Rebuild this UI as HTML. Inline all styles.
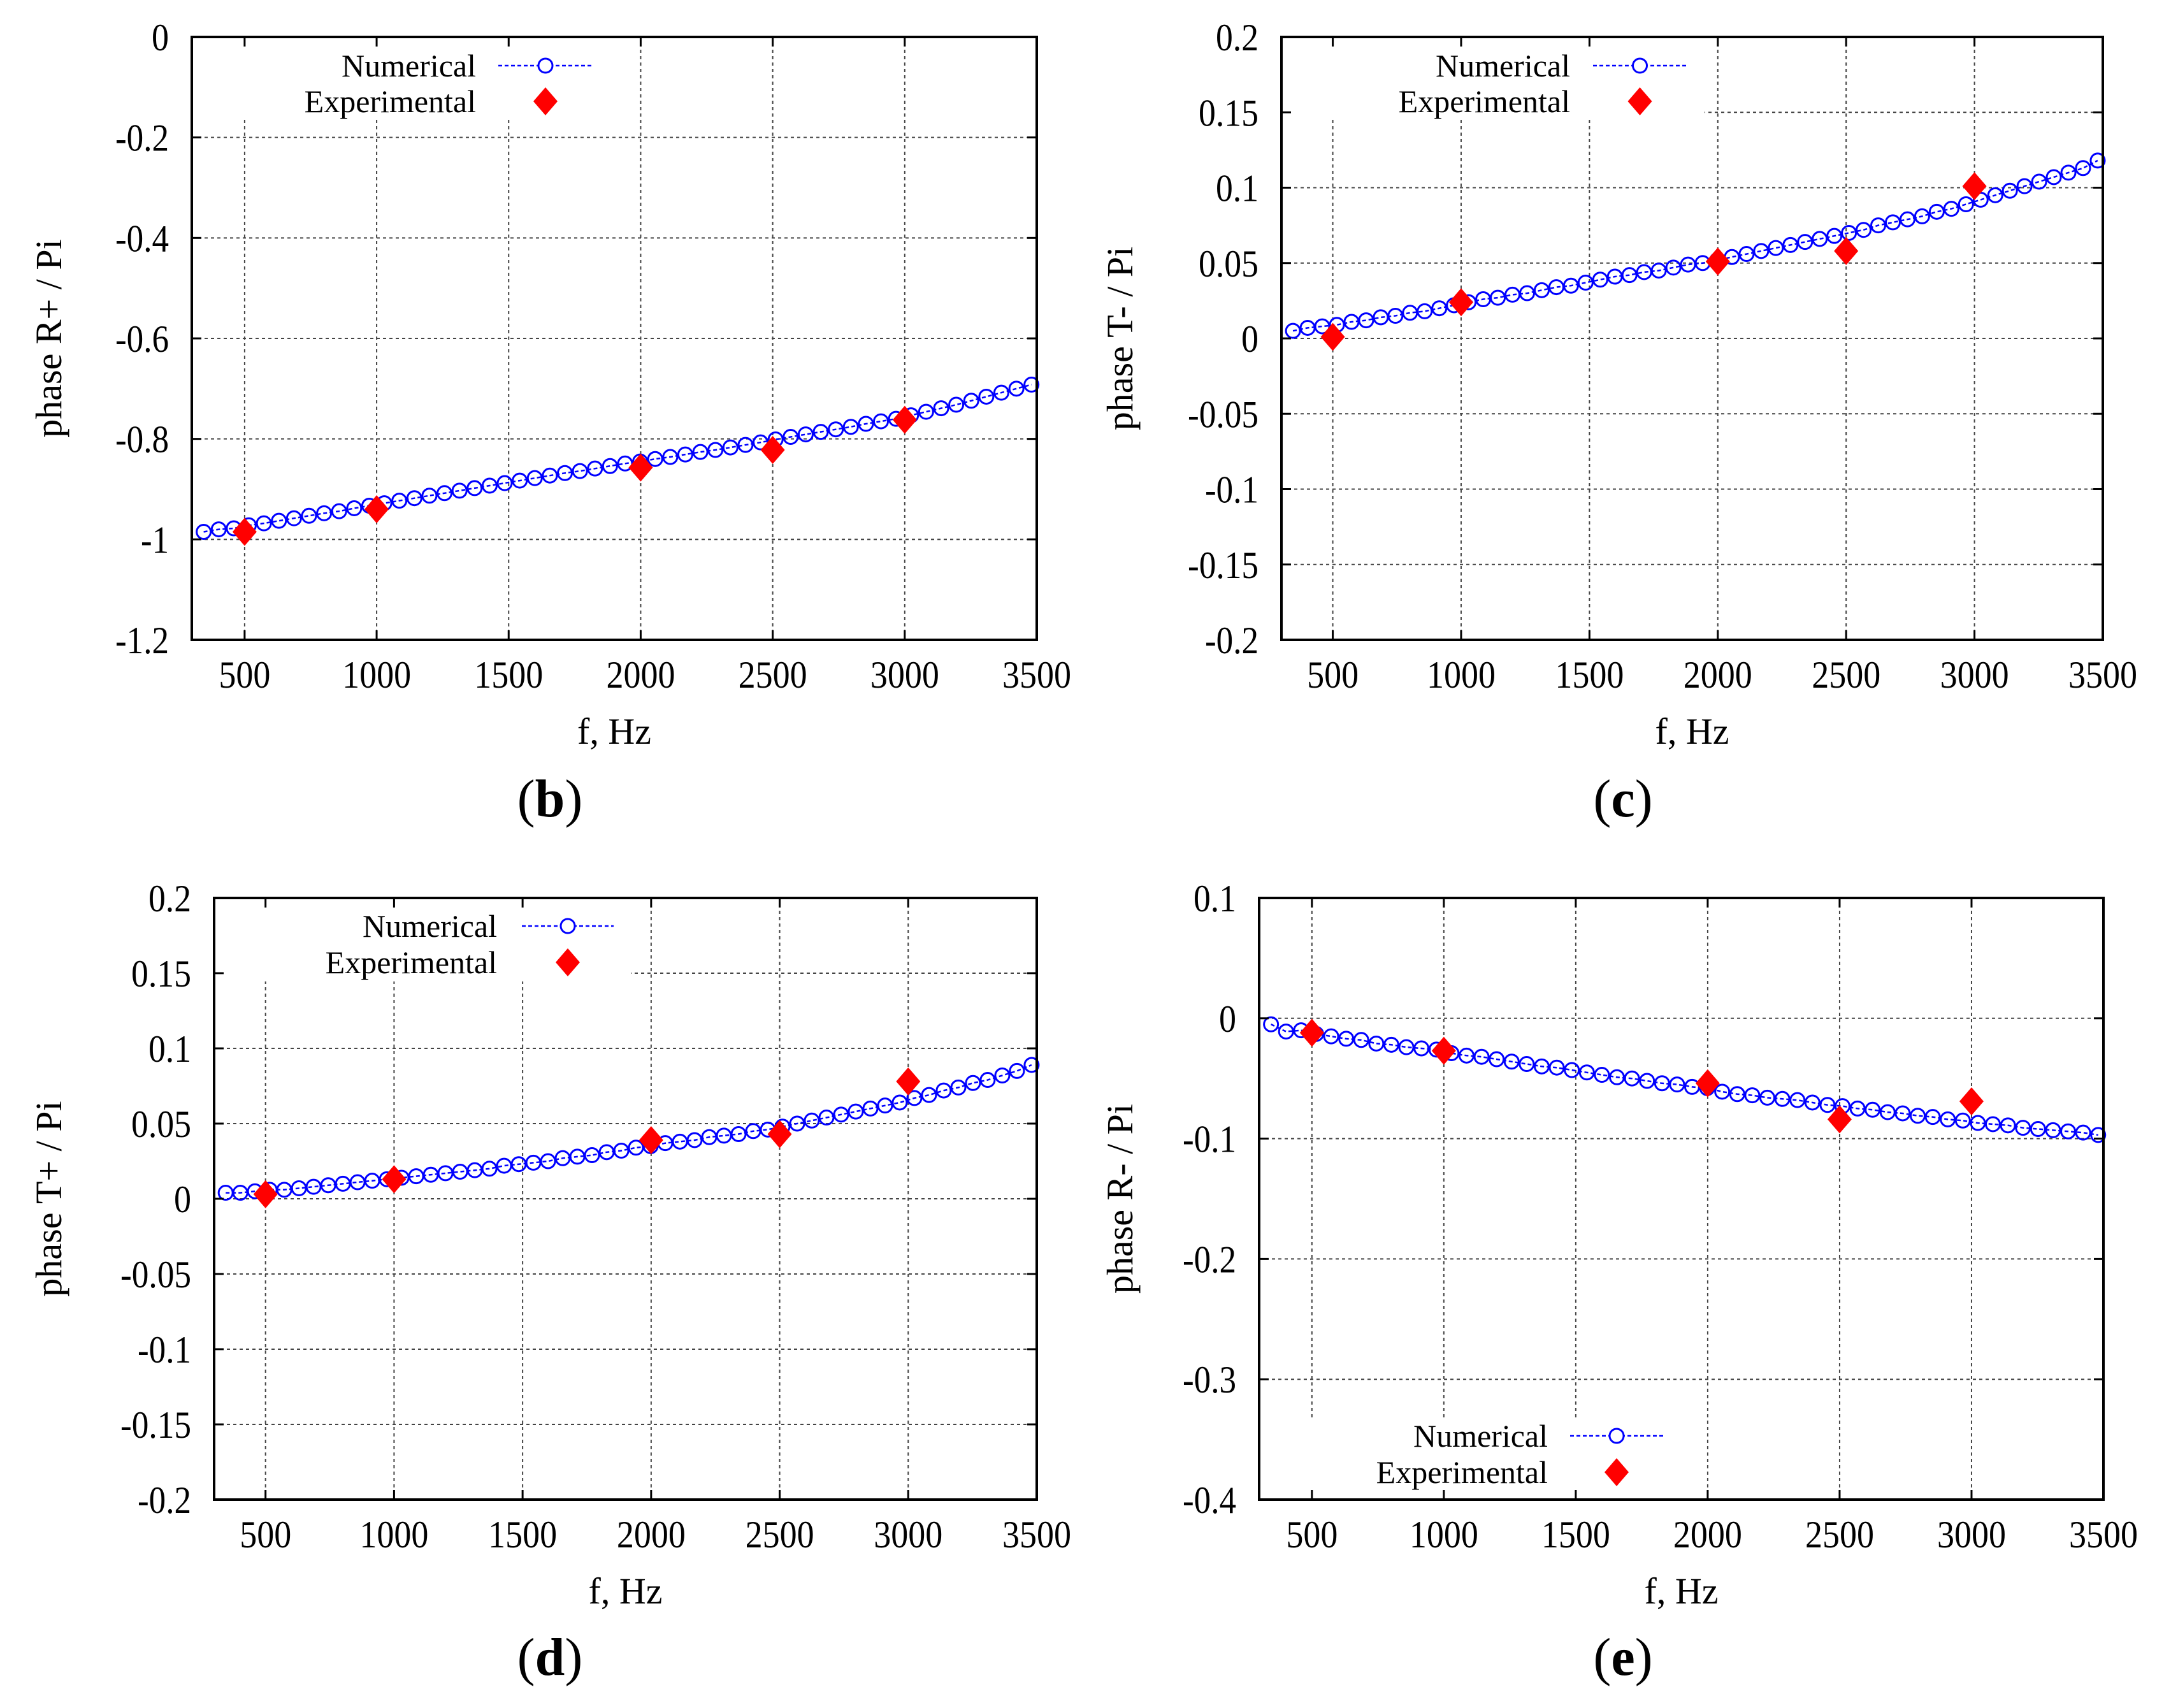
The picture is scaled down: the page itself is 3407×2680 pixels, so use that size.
<!DOCTYPE html>
<html><head><meta charset="utf-8">
<style>
html,body{margin:0;padding:0;background:#fff;}
svg{display:block;}
text{font-family:"Liberation Serif",serif;fill:#000;}
</style></head>
<body>
<svg id="fig" width="3407" height="2680" viewBox="0 0 3407 2680" xmlns="http://www.w3.org/2000/svg"></svg>
<script>
// shared frequency axis (Hz) for numerical series
const freqs = [345,402,459,516,573,630,687,744,801,858,915,972,1029,1086,1143,1200,1257,1314,1371,1428,1485,1542,1599,1656,1713,1770,1827,1884,1941,1998,2055,2112,2169,2226,2283,2340,2397,2454,2511,2568,2625,2682,2739,2796,2853,2910,2967,3024,3081,3138,3195,3252,3309,3366,3423,3480];
const expFreqs = [500,1000,2000,2500,3000];
const xTicks = [500,1000,1500,2000,2500,3000,3500];
const xTickLabels = ["500","1000","1500","2000","2500","3000","3500"];

// panel (b)
const numB = [-0.985,-0.980,-0.978,-0.972,-0.968,-0.963,-0.958,-0.953,-0.948,-0.944,-0.938,-0.933,-0.928,-0.923,-0.918,-0.913,-0.908,-0.903,-0.898,-0.893,-0.888,-0.883,-0.878,-0.873,-0.868,-0.864,-0.859,-0.854,-0.849,-0.845,-0.840,-0.836,-0.831,-0.826,-0.822,-0.817,-0.812,-0.807,-0.801,-0.796,-0.791,-0.786,-0.781,-0.776,-0.770,-0.765,-0.760,-0.753,-0.746,-0.739,-0.732,-0.724,-0.716,-0.708,-0.700,-0.692];
const expB = [-0.985,-0.940,-0.857,-0.822,-0.762];
const yTicksB = [0,-0.2,-0.4,-0.6,-0.8,-1,-1.2];
const yLabelsB = ["0","-0.2","-0.4","-0.6","-0.8","-1","-1.2"];

// panel (c)
const numC = [0.005,0.007,0.008,0.009,0.011,0.012,0.014,0.015,0.017,0.018,0.020,0.022,0.024,0.026,0.027,0.029,0.030,0.032,0.034,0.035,0.037,0.039,0.041,0.042,0.044,0.045,0.047,0.049,0.050,0.052,0.054,0.056,0.058,0.060,0.062,0.064,0.066,0.068,0.070,0.072,0.075,0.077,0.079,0.081,0.084,0.086,0.089,0.092,0.095,0.098,0.101,0.104,0.107,0.110,0.113,0.118];
const expC = [0.001,0.024,0.051,0.058,0.101];
const yTicksC = [0.2,0.15,0.1,0.05,0,-0.05,-0.1,-0.15,-0.2];
const yLabelsC = ["0.2","0.15","0.1","0.05","0","-0.05","-0.1","-0.15","-0.2"];

// panel (d)
const numD = [0.004,0.004,0.005,0.006,0.006,0.007,0.008,0.009,0.010,0.011,0.012,0.013,0.014,0.015,0.016,0.017,0.018,0.019,0.020,0.022,0.023,0.024,0.025,0.027,0.028,0.029,0.031,0.032,0.034,0.035,0.037,0.038,0.039,0.041,0.042,0.043,0.045,0.046,0.048,0.050,0.052,0.054,0.056,0.058,0.060,0.062,0.064,0.067,0.069,0.072,0.074,0.077,0.079,0.082,0.085,0.089];
const expD = [0.003,0.013,0.039,0.043,0.078];
const yTicksD = yTicksC;
const yLabelsD = yLabelsC;

// panel (e)
const numE = [-0.005,-0.011,-0.010,-0.013,-0.015,-0.017,-0.018,-0.021,-0.022,-0.024,-0.025,-0.026,-0.029,-0.031,-0.032,-0.034,-0.036,-0.038,-0.040,-0.041,-0.043,-0.045,-0.047,-0.049,-0.050,-0.052,-0.054,-0.055,-0.057,-0.058,-0.061,-0.063,-0.064,-0.066,-0.067,-0.068,-0.070,-0.072,-0.073,-0.075,-0.076,-0.078,-0.079,-0.081,-0.082,-0.084,-0.085,-0.087,-0.088,-0.089,-0.091,-0.092,-0.093,-0.094,-0.095,-0.097];
const expE = [-0.012,-0.027,-0.054,-0.084,-0.069];
const yTicksE = [0.1,0,-0.1,-0.2,-0.3,-0.4];
const yLabelsE = ["0.1","0","-0.1","-0.2","-0.3","-0.4"];

const NS = "http://www.w3.org/2000/svg";
const svg = document.getElementById('fig');
function mk(tag, attrs, parent){
  const e = document.createElementNS(NS, tag);
  for (const k in attrs) e.setAttribute(k, attrs[k]);
  (parent||svg).appendChild(e);
  return e;
}

const panels = [
  {id:'b', L:301, R:1627, T:58, B:1004, ymin:-1.2, ymax:0, num:numB, exp:expB, yt:yTicksB, yl:yLabelsB, ytitle:'phase R+ / Pi', ytx:76, legR:747, legLine:[782,930], legY:[103,159], legBox:[0,943,0,186], xlabY:1167, capX:863, capY:1281},
  {id:'c', L:2011, R:3300, T:58, B:1004, ymin:-0.2, ymax:0.2, num:numC, exp:expC, yt:yTicksC, yl:yLabelsC, ytitle:'phase T- / Pi', ytx:1757, legR:2464, legLine:[2500,2647], legY:[103,159], legBox:[0,2675,0,186], xlabY:1167, capX:2547, capY:1281},
  {id:'d', L:336, R:1627, T:1409, B:2353, ymin:-0.2, ymax:0.2, num:numD, exp:expD, yt:yTicksD, yl:yLabelsD, ytitle:'phase T+ / Pi', ytx:76, legR:780, legLine:[819,963], legY:[1453,1510], legBox:[0,990,0,1540], xlabY:2516, capX:863, capY:2628},
  {id:'e', L:1976, R:3301, T:1409, B:2353, ymin:-0.4, ymax:0.1, num:numE, exp:expE, yt:yTicksE, yl:yLabelsE, ytitle:'phase R- / Pi', ytx:1757, legR:2429, legLine:[2464,2610], legY:[2253,2310], legBox:[0,2640,2225,0], xlabY:2516, capX:2547, capY:2628}
];

panels.forEach(p=>{
  const g = mk('g', {});
  
  
  const xs = f => p.L + (f-300)/(3500-300)*(p.R-p.L);
  const ys = v => p.B - (v-p.ymin)/(p.ymax-p.ymin)*(p.B-p.T);

  const grid = mk('g', {}, g);
  
  
  xTicks.forEach(t=>{
    if (t>=3500) return;
    mk('line',{x1:xs(t),x2:xs(t),y1:p.T,y2:p.B,stroke:'#444','stroke-width':2,'stroke-dasharray':'5 5'},grid);
  });
  p.yt.forEach(t=>{
    if (t===p.ymax||t===p.ymin) return;
    mk('line',{x1:p.L,x2:p.R,y1:ys(t),y2:ys(t),stroke:'#444','stroke-width':2,'stroke-dasharray':'5 5'},grid);
  });

  const lb = p.legBox;
  let bx1=p.L+3, bx2=lb[1], by1, by2;
  if (p.id==='e'){ by1=lb[2]; by2=p.B-3; } else { by1=p.T+3; by2=lb[3]; }
  mk('rect',{x:bx1,y:by1,width:bx2-bx1,height:by2-by1,fill:'#fff'},g);

  const pts = freqs.map((f,i)=>xs(f).toFixed(1)+','+ys(p.num[i]).toFixed(1)).join(' ');
  const pl = mk('polyline',{points:pts,fill:'none',stroke:'#0000ff','stroke-width':2.5,'stroke-dasharray':'6 4'},g);
  
  
  freqs.forEach((f,i)=>{
    const c = mk('circle',{cx:xs(f),cy:ys(p.num[i]),r:11,fill:'none',stroke:'#0000ff','stroke-width':3},g);
    
    
  });
  expFreqs.forEach((f,i)=>{
    const cx=xs(f), cy=ys(p.exp[i]);
    const d = mk('polygon',{points:`${cx},${cy-22} ${cx+19},${cy} ${cx},${cy+22} ${cx-19},${cy}`,fill:'#ff0000'},g);
    
    
  });

  const fr = mk('rect',{x:p.L,y:p.T,width:p.R-p.L,height:p.B-p.T,fill:'none',stroke:'#000','stroke-width':4},g);
  
  

  xTicks.forEach((t,i)=>{
    const x=xs(t);
    mk('line',{x1:x,x2:x,y1:p.B,y2:p.B-15,stroke:'#000','stroke-width':3},g);
    mk('line',{x1:x,x2:x,y1:p.T,y2:p.T+15,stroke:'#000','stroke-width':3},g);
    const tx = mk('text',{x:x,y:p.B+75,'font-size':60,'text-anchor':'middle',textLength:xTickLabels[i].length*27,lengthAdjust:'spacingAndGlyphs'},g);
    tx.textContent = xTickLabels[i];
    
    
  });
  p.yt.forEach((t,i)=>{
    const y=ys(t);
    mk('line',{x1:p.L,x2:p.L+15,y1:y,y2:y,stroke:'#000','stroke-width':3},g);
    mk('line',{x1:p.R,x2:p.R-15,y1:y,y2:y,stroke:'#000','stroke-width':3},g);
    const s = p.yl[i];
    let w = 0; for (const ch of s) w += (ch==='.'?13:(ch==='-'?17:27));
    const tx = mk('text',{x:p.L-36,y:y+21,'font-size':60,'text-anchor':'end',textLength:w,lengthAdjust:'spacingAndGlyphs'},g);
    tx.textContent = s;
    
    
  });

  const cyMid = (p.T+p.B)/2;
  const yt = mk('text',{x:p.ytx,y:cyMid,'font-size':58,'text-anchor':'middle',transform:`rotate(-90 ${p.ytx} ${cyMid})`,dy:20},g);
  yt.textContent = p.ytitle;
  
  
  const cxMid = (p.L+p.R)/2;
  const xt = mk('text',{x:cxMid,y:p.xlabY,'font-size':58,'text-anchor':'middle'},g);
  xt.textContent = 'f, Hz';
  
  
  const cap = mk('text',{x:p.capX,y:p.capY,'font-size':84,'text-anchor':'middle'},g);
  cap.innerHTML = '(<tspan font-weight="bold">'+p.id+'</tspan>)';
  
  

  const lg = mk('g',{},g);
  
  
  const t1 = mk('text',{x:p.legR,y:p.legY[0]+17,'font-size':50,'text-anchor':'end'},lg);
  t1.textContent='Numerical';
  
  
  const t2 = mk('text',{x:p.legR,y:p.legY[1]+17,'font-size':50,'text-anchor':'end'},lg);
  t2.textContent='Experimental';
  
  
  const lx1=p.legLine[0], lx2=p.legLine[1], lc=(lx1+lx2)/2;
  mk('line',{x1:lx1,x2:lx2,y1:p.legY[0],y2:p.legY[0],stroke:'#0000ff','stroke-width':2.5,'stroke-dasharray':'6 4'},lg);
  mk('circle',{cx:lc,cy:p.legY[0],r:11,fill:'#fff',stroke:'#0000ff','stroke-width':3},lg);
  const dy=p.legY[1];
  mk('polygon',{points:`${lc},${dy-22} ${lc+19},${dy} ${lc},${dy+22} ${lc-19},${dy}`,fill:'#ff0000'},lg);
});
</script>
</body></html>
